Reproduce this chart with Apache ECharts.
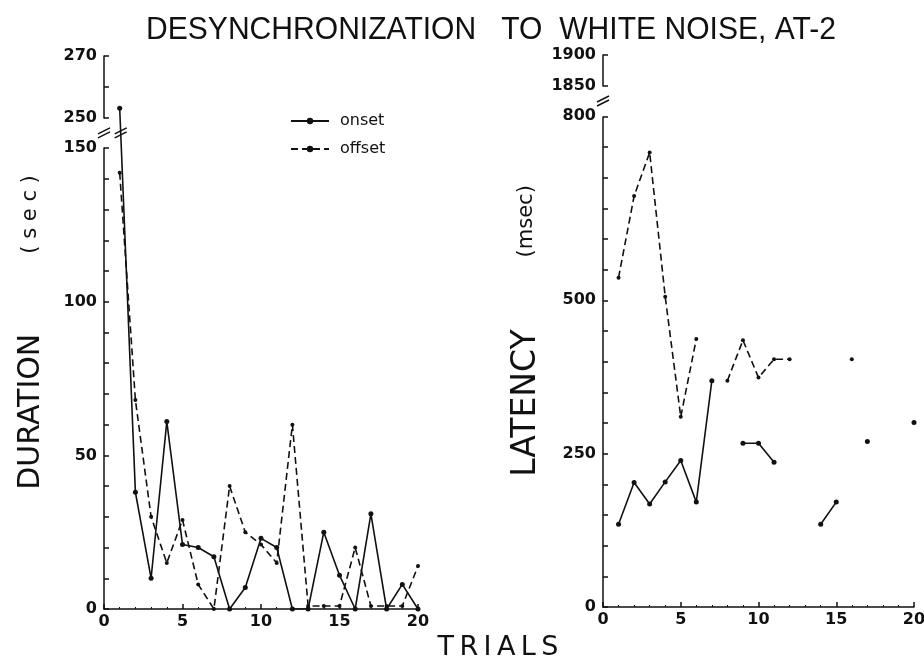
<!DOCTYPE html>
<html><head><meta charset="utf-8">
<script src="https://cdn.jsdelivr.net/npm/echarts@6.0.0/dist/echarts.min.js"></script>
<style>html,body{margin:0;padding:0;background:#fff}#c{width:924px;height:664px}</style>
</head><body><div id="c"></div>
<script>
const trials = [1,2,3,4,5,6,7,8,9,10,11,12,13,14,15,16,17,18,19,20];
const durationOnset  = [253,38,10,61,21,20,17,0,7,23,20,0,0,25,11,0,31,0,8,0];
const durationOffset = [142,68,30,15,29,8,0,40,25,21,15,60,1,1,1,20,1,1,1,14];
const latencyOnset   = [135,203,168,204,239,171,369,null,267,267,236,null,null,135,171,null,270,null,null,301];
const latencyOffset  = [537,670,741,506,310,437,null,369,435,374,404,404,null,null,null,404,null,null,null,null];
const durationLabels = [0,50,100,150,250,270];
const durationTicks  = [0,10,20,30,40,50,60,70,80,90,100,110,120,130,140,150,250,260,270];
const latencyLabels  = [0,250,500,800,1850,1900];
const latencyTicks   = [0,50,100,150,200,250,300,350,400,450,500,550,600,650,700,750,800,1850,1900];
const trialLabels    = [0,5,10,15,20];

const pairs = arr => trials.map((t,i) => [t, arr[i] === null ? '-' : arr[i]]);
const black = '#111';
const lblStyle = {color: black, fontFamily: 'DejaVu Sans', fontWeight: 'bold', fontSize: 16, formatter: v => String(v)};

function xAxisCfg(idx) {
  return {
    type: 'value', gridIndex: idx, min: 0, max: 20, interval: 5,
    axisLine: {lineStyle: {color: black, width: 1.5}},
    axisTick: {inside: true, length: 5, lineStyle: {color: black, width: 1.5}, customValues: trialLabels},
    minorTick: {show: true, splitNumber: 5, length: 2, lineStyle: {color: black}},
    axisLabel: Object.assign({margin: 5, customValues: trialLabels}, lblStyle),
    splitLine: {show: false}
  };
}
function yAxisCfg(idx, max, brk, labels, ticks, name, nameGap, gapW, sizeA) {
  return {
    type: 'value', gridIndex: idx, min: 0, max: max,
    breaks: [brk],
    breakArea: {show: false},
    axisLine: {lineStyle: {color: black, width: 1.5}},
    axisTick: {inside: true, length: 5, lineStyle: {color: black, width: 1.5}, customValues: ticks},
    axisLabel: Object.assign({margin: 7, customValues: labels}, lblStyle),
    splitLine: {show: false},
    name: name, nameLocation: 'middle', nameGap: nameGap,
    nameTextStyle: {
      color: black, fontFamily: 'DejaVu Sans',
      rich: {
        a: {fontSize: sizeA, fontFamily: 'DejaVu Sans', color: black},
        s: {width: gapW, fontSize: 20},
        b: {fontSize: 21, fontFamily: 'DejaVu Sans', color: black}
      }
    }
  };
}
function lineSeries(name, arr, idx, dashed) {
  return {
    type: 'line', name: name, xAxisIndex: idx, yAxisIndex: idx,
    data: pairs(arr), connectNulls: false,
    symbol: 'circle', symbolSize: dashed ? 4 : 5, showAllSymbol: true,
    itemStyle: {color: black},
    lineStyle: {color: black, width: 1.6, type: dashed ? [7, 4] : 'solid'},
    emphasis: {disabled: true}, animation: false
  };
}

const chart = echarts.init(document.getElementById('c'), null, {renderer: 'canvas'});
chart.setOption({
  backgroundColor: '#fff',
  animation: false,
  grid: [
    {left: 104, top: 56, width: 314, height: 553, outerBoundsMode: 'none'},
    {left: 603, top: 55, width: 311, height: 552, outerBoundsMode: 'none'}
  ],
  xAxis: [xAxisCfg(0), xAxisCfg(1)],
  yAxis: [
    yAxisCfg(0, 270, {start: 150, end: 250, gap: 10}, durationLabels, durationTicks,
             '{a|DURATION}{s| }{b|( s e c )}', 58, 80, 30),
    yAxisCfg(1, 1900, {start: 800, end: 1850, gap: 50}, latencyLabels, latencyTicks,
             '{a|LATENCY}{s| }{b|(msec)}', 60, 72, 33)
  ],
  legend: {
    data: ['onset', 'offset'], orient: 'vertical', left: 285, top: 108,
    itemWidth: 38, itemHeight: 8, itemGap: 12,
    textStyle: {color: black, fontFamily: 'DejaVu Sans', fontSize: 16, padding: [0, 0, 0, 6]}
  },
  series: [
    lineSeries('onset', durationOnset, 0, false),
    lineSeries('offset', durationOffset, 0, true),
    lineSeries('onset', latencyOnset, 1, false),
    lineSeries('offset', latencyOffset, 1, true)
  ]
});

function breakMarks() {
  const els = [];
  const slash = (x, y) => {
    els.push({type: 'line', shape: {x1: x - 6, y1: y + 1, x2: x + 6, y2: y - 5}, style: {stroke: black, lineWidth: 1.5}, z: 10});
    els.push({type: 'line', shape: {x1: x - 6, y1: y + 5, x2: x + 6, y2: y - 1}, style: {stroke: black, lineWidth: 1.5}, z: 10});
  };
  const ax0 = chart.convertToPixel({xAxisIndex: 0}, 0);
  const y0 = (chart.convertToPixel({yAxisIndex: 0}, 150) + chart.convertToPixel({yAxisIndex: 0}, 250)) / 2;
  slash(ax0, y0);
  const p1 = chart.convertToPixel({gridIndex: 0}, [trials[0], durationOnset[0]]);
  const p2 = chart.convertToPixel({gridIndex: 0}, [trials[1], durationOnset[1]]);
  const t = (y0 - p1[1]) / (p2[1] - p1[1]);
  slash(p1[0] + t * (p2[0] - p1[0]), y0);
  const ax1 = chart.convertToPixel({xAxisIndex: 1}, 0);
  const y1 = (chart.convertToPixel({yAxisIndex: 1}, 800) + chart.convertToPixel({yAxisIndex: 1}, 1850)) / 2;
  slash(ax1, y1);
  els.push({type: 'text', x: 491, y: 30, scaleX: 0.97,
    style: {text: 'DESYNCHRONIZATION   TO  WHITE NOISE, AT-2', x: 0, y: 0,
    align: 'center', verticalAlign: 'middle', font: '31px "Liberation Sans"', fill: black}});
  els.push({type: 'text', style: {text: 'T\u2009R\u2009I\u2009A\u2009L\u2009S', x: 498, y: 648,
    align: 'center', verticalAlign: 'middle', font: '27px "DejaVu Sans"', fill: black}});
  chart.setOption({graphic: els});
}
breakMarks();
</script></body></html>
